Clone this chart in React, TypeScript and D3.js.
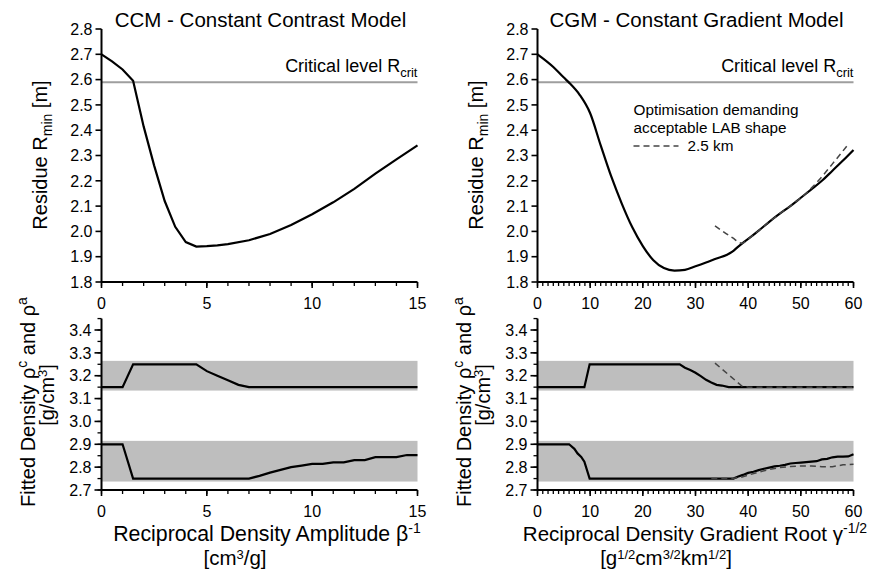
import React from "react";
import * as d3 from "d3";

// ---------- data ----------
const ccmX = [0, 0.5, 1, 1.5, 2, 2.5, 3, 3.5, 4, 4.5, 5, 5.5, 6, 7, 8, 9, 10, 11, 12, 13, 14, 15];
const ccmR = [2.70, 2.672, 2.64, 2.595, 2.415, 2.26, 2.12, 2.018, 1.958, 1.94, 1.942, 1.945, 1.95, 1.965, 1.99, 2.025, 2.068, 2.115, 2.168, 2.228, 2.285, 2.34];

const ccmUpX = [0, 1, 1.5, 4.5, 5, 5.5, 6, 6.5, 7, 15];
const ccmUpY = [3.15, 3.15, 3.25, 3.25, 3.22, 3.2, 3.18, 3.16, 3.15, 3.15];
const ccmLoX = [0, 1, 1.5, 7, 7.5, 8, 8.5, 9, 9.5, 10, 10.5, 11, 11.5, 12, 12.5, 13, 14, 14.5, 15];
const ccmLoY = [2.90, 2.90, 2.75, 2.75, 2.762, 2.776, 2.788, 2.80, 2.807, 2.814, 2.814, 2.821, 2.821, 2.831, 2.831, 2.844, 2.844, 2.853, 2.853];

const cgmX = [0, 3, 5, 6, 8, 10, 12, 14, 16, 18, 20, 22, 24, 26, 28, 30, 32, 34, 36, 37, 38, 39, 40, 42, 44, 46, 48, 50, 52, 54, 56, 58, 60];
const cgmR = [2.70, 2.65, 2.608, 2.588, 2.54, 2.467, 2.34, 2.217, 2.11, 2.016, 1.942, 1.886, 1.855, 1.845, 1.848, 1.862, 1.877, 1.893, 1.908, 1.92, 1.938, 1.955, 1.97, 2.003, 2.038, 2.07, 2.10, 2.133, 2.166, 2.2, 2.24, 2.28, 2.322];
const cgmDashX = [33.7, 35, 37, 38.8, 40, 42, 44, 46, 48, 50, 51.2, 52, 54, 56, 58, 59.1];
const cgmDashR = [2.022, 2.003, 1.975, 1.953, 1.97, 2.003, 2.038, 2.07, 2.10, 2.133, 2.154, 2.171, 2.216, 2.267, 2.318, 2.347];

const cgmUpX = [0, 8.9, 9.9, 27, 28, 29, 30, 31, 32, 33, 34, 35, 36.3, 60];
const cgmUpY = [3.15, 3.15, 3.25, 3.25, 3.235, 3.225, 3.213, 3.198, 3.182, 3.17, 3.16, 3.157, 3.15, 3.15];
const cgmUpDashX = [33.7, 38.8, 40, 60];
const cgmUpDashY = [3.255, 3.155, 3.15, 3.15];
const cgmLoX = [0, 6, 7, 7.6, 8.3, 8.9, 9.9, 37.2, 38, 39, 40, 41, 42, 43, 44, 45, 46, 47, 48, 49, 50, 51, 52, 53, 54, 55, 56, 57, 58, 59, 60];
const cgmLoY = [2.90, 2.90, 2.88, 2.86, 2.845, 2.824, 2.75, 2.75, 2.758, 2.766, 2.775, 2.78, 2.787, 2.793, 2.798, 2.803, 2.806, 2.81, 2.816, 2.818, 2.82, 2.822, 2.824, 2.826, 2.834, 2.836, 2.843, 2.846, 2.846, 2.847, 2.856];
const cgmLoDashX = [33, 37, 38.5, 40, 42, 44, 46, 48, 50, 52, 54, 56, 58, 60];
const cgmLoDashY = [2.75, 2.75, 2.755, 2.765, 2.778, 2.79, 2.798, 2.803, 2.805, 2.805, 2.802, 2.802, 2.81, 2.813];

const rTicks = [1.8, 1.9, 2.0, 2.1, 2.2, 2.3, 2.4, 2.5, 2.6, 2.7, 2.8];
const dTicks = [2.7, 2.8, 2.9, 3.0, 3.1, 3.2, 3.3, 3.4];
const rCrit = 2.59;
const upBand = [3.135, 3.265];
const loBand = [2.737, 2.915];

const FONT = "'Liberation Sans', Arial, sans-serif";

type PanelProps = {
  x0: number;
  xMax: number;
  majorStep: number;
  title: string;
  rX: number[]; rY: number[];
  smooth: boolean;
  dashR?: [number[], number[]];
  up: [number[], number[]]; lo: [number[], number[]];
  upDash?: [number[], number[]]; loDash?: [number[], number[]];
  xlabel1: React.ReactNode; xlabel2: React.ReactNode; xl1c: number; xl2c: number; xlSize: number;
  legend?: boolean;
};

function Panel(p: PanelProps) {
  const x = d3.scaleLinear().domain([0, p.xMax]).range([p.x0, p.x0 + 316]);
  const yR = d3.scaleLinear().domain([1.8, 2.8]).range([282, 29]);
  const yD = d3.scaleLinear().domain([2.7, 3.4]).range([490, 330]);
  const pts = (xs: number[], ys: number[]) => xs.map((v, i) => [v, ys[i]] as [number, number]);
  const lineR = d3.line<[number, number]>().x(d => x(d[0])).y(d => yR(d[1]))
    .curve(p.smooth ? d3.curveMonotoneX : d3.curveLinear);
  const lineD = d3.line<[number, number]>().x(d => x(d[0])).y(d => yD(d[1]));
  const minorX = d3.range(0, p.xMax + 0.001, 1);
  const majorX = d3.range(0, p.xMax + 0.001, p.majorStep);
  const dMinor = d3.range(2.7, 3.451, 0.05);
  const ax = p.x0;
  const xEnd = x(p.xMax);

  const xAxis = (y0: number, labelY: number) => (
    <g>
      <line x1={ax} x2={xEnd} y1={y0} y2={y0} stroke="#000" strokeWidth={2} />
      {minorX.map(v => (
        <line key={"m" + v} x1={x(v)} x2={x(v)} y1={y0} y2={y0 + 4} stroke="#000" strokeWidth={1.3} />
      ))}
      {majorX.map(v => (
        <g key={"M" + v}>
          <line x1={x(v)} x2={x(v)} y1={y0} y2={y0 + 6} stroke="#000" strokeWidth={1.6} />
          <text x={x(v)} y={labelY} textAnchor="middle" fontSize={16} fontFamily={FONT}>{v}</text>
        </g>
      ))}
    </g>
  );

  return (
    <g>
      {/* title */}
      <text x={x(p.xMax / 2) + 1} y={27} textAnchor="middle" fontSize={20.5} fontFamily={FONT}>{p.title}</text>

      {/* top panel */}
      <line x1={ax} x2={xEnd} y1={yR(rCrit)} y2={yR(rCrit)} stroke="#9e9e9e" strokeWidth={2} />
      <text x={xEnd} y={72} textAnchor="end" fontSize={18} fontFamily={FONT}>
        Critical level R<tspan dy={5} fontSize={13}>crit</tspan>
      </text>
      <path d={lineR(pts(p.rX, p.rY)) || ""} fill="none" stroke="#000" strokeWidth={2.2} />
      {p.dashR && (
        <path d={lineR(pts(p.dashR[0], p.dashR[1])) || ""} fill="none" stroke="#444" strokeWidth={1.5} strokeDasharray="6,4" />
      )}
      {p.legend && (
        <g fontFamily={FONT} fontSize={15.3}>
          <text x={ax + 96} y={115}>Optimisation demanding</text>
          <text x={ax + 96} y={133}>acceptable LAB shape</text>
          <line x1={ax + 96} x2={ax + 141} y1={146} y2={146} stroke="#444" strokeWidth={1.5} strokeDasharray="6,4" />
          <text x={ax + 150} y={151}>2.5 km</text>
        </g>
      )}
      <line x1={ax} x2={ax} y1={29} y2={282} stroke="#000" strokeWidth={2} />
      {rTicks.map(v => (
        <g key={"r" + v}>
          <line x1={ax - 6} x2={ax} y1={yR(v)} y2={yR(v)} stroke="#000" strokeWidth={1.6} />
          <text x={ax - 9} y={yR(v)} dy="0.36em" textAnchor="end" fontSize={16} fontFamily={FONT}>{v.toFixed(1)}</text>
        </g>
      ))}
      {xAxis(282, 309)}
      <text transform={`translate(${ax - 55},${155}) rotate(-90)`} textAnchor="middle" fontSize={20} fontFamily={FONT}>
        Residue R<tspan dy={5} fontSize={14}>min</tspan><tspan dy={-5}> [m]</tspan>
      </text>

      {/* bottom panel */}
      <rect x={ax} width={xEnd - ax} y={yD(upBand[1])} height={yD(upBand[0]) - yD(upBand[1])} fill="#bebebe" />
      <rect x={ax} width={xEnd - ax} y={yD(loBand[1])} height={yD(loBand[0]) - yD(loBand[1])} fill="#bebebe" />
      <path d={lineD(pts(p.up[0], p.up[1])) || ""} fill="none" stroke="#000" strokeWidth={2.2} />
      <path d={lineD(pts(p.lo[0], p.lo[1])) || ""} fill="none" stroke="#000" strokeWidth={2.2} />
      {p.upDash && <path d={lineD(pts(p.upDash[0], p.upDash[1])) || ""} fill="none" stroke="#444" strokeWidth={1.5} strokeDasharray="6,4" />}
      {p.loDash && <path d={lineD(pts(p.loDash[0], p.loDash[1])) || ""} fill="none" stroke="#444" strokeWidth={1.5} strokeDasharray="6,4" />}
      <line x1={ax} x2={ax} y1={yD(3.45)} y2={490} stroke="#000" strokeWidth={2} />
      {dMinor.map(v => (
        <line key={"dm" + v} x1={ax - 4} x2={ax} y1={yD(v)} y2={yD(v)} stroke="#000" strokeWidth={1.3} />
      ))}
      {dTicks.map(v => (
        <g key={"d" + v}>
          <line x1={ax - 7} x2={ax} y1={yD(v)} y2={yD(v)} stroke="#000" strokeWidth={1.6} />
          <text x={ax - 10} y={yD(v)} dy="0.36em" textAnchor="end" fontSize={16} fontFamily={FONT}>{v.toFixed(1)}</text>
        </g>
      ))}
      {xAxis(490, 517)}
      <text transform={`translate(${ax - 67},${402}) rotate(-90)`} textAnchor="middle" fontSize={20} fontFamily={FONT}>
        Fitted Density ρ<tspan dy={-8} fontSize={14}>c</tspan><tspan dy={8}> and ρ</tspan><tspan dy={-8} fontSize={14}>a</tspan>
      </text>
      <text transform={`translate(${ax - 48},${395}) rotate(-90)`} textAnchor="middle" fontSize={20} fontFamily={FONT}>
        [g/cm<tspan dy={-7} fontSize={13}>3</tspan><tspan dy={7}>]</tspan>
      </text>
      <text x={p.xl1c} y={541} textAnchor="middle" fontSize={p.xlSize} fontFamily={FONT}>{p.xlabel1}</text>
      <text x={p.xl2c} y={565} textAnchor="middle" fontSize={20.5} fontFamily={FONT}>{p.xlabel2}</text>
    </g>
  );
}

export default function App() {
  return (
    <svg width={872} height={569} style={{ display: "block", position: "absolute", left: 0, top: 0, background: "#fff" }}>
      <rect width={872} height={569} fill="#fff" />
      <Panel
        x0={101.5} xMax={15} majorStep={5} title="CCM - Constant Contrast Model"
        rX={ccmX} rY={ccmR} smooth={false}
        up={[ccmUpX, ccmUpY]} lo={[ccmLoX, ccmLoY]}
        xlabel1={<>Reciprocal Density Amplitude β<tspan dy={-8} fontSize={14}>-1</tspan></>}
        xlabel2={<>[cm<tspan dy={-6} fontSize={13}>3</tspan><tspan dy={6}>/g]</tspan></>}
        xl1c={267} xl2c={235} xlSize={21.3}
      />
      <Panel
        x0={537.5} xMax={60} majorStep={10} title="CGM - Constant Gradient Model"
        rX={cgmX} rY={cgmR} smooth={true} dashR={[cgmDashX, cgmDashR]}
        up={[cgmUpX, cgmUpY]} lo={[cgmLoX, cgmLoY]}
        upDash={[cgmUpDashX, cgmUpDashY]} loDash={[cgmLoDashX, cgmLoDashY]}
        xlabel1={<>Reciprocal Density Gradient Root γ<tspan dy={-8} fontSize={14}>-1/2</tspan></>}
        xlabel2={<>[g<tspan dy={-6} fontSize={13}>1/2</tspan><tspan dy={6}>cm</tspan><tspan dy={-6} fontSize={13}>3/2</tspan><tspan dy={6}>km</tspan><tspan dy={-6} fontSize={13}>1/2</tspan><tspan dy={6}>]</tspan></>}
        xl1c={695} xl2c={666} xlSize={20.5}
        legend={true}
      />
    </svg>
  );
}
